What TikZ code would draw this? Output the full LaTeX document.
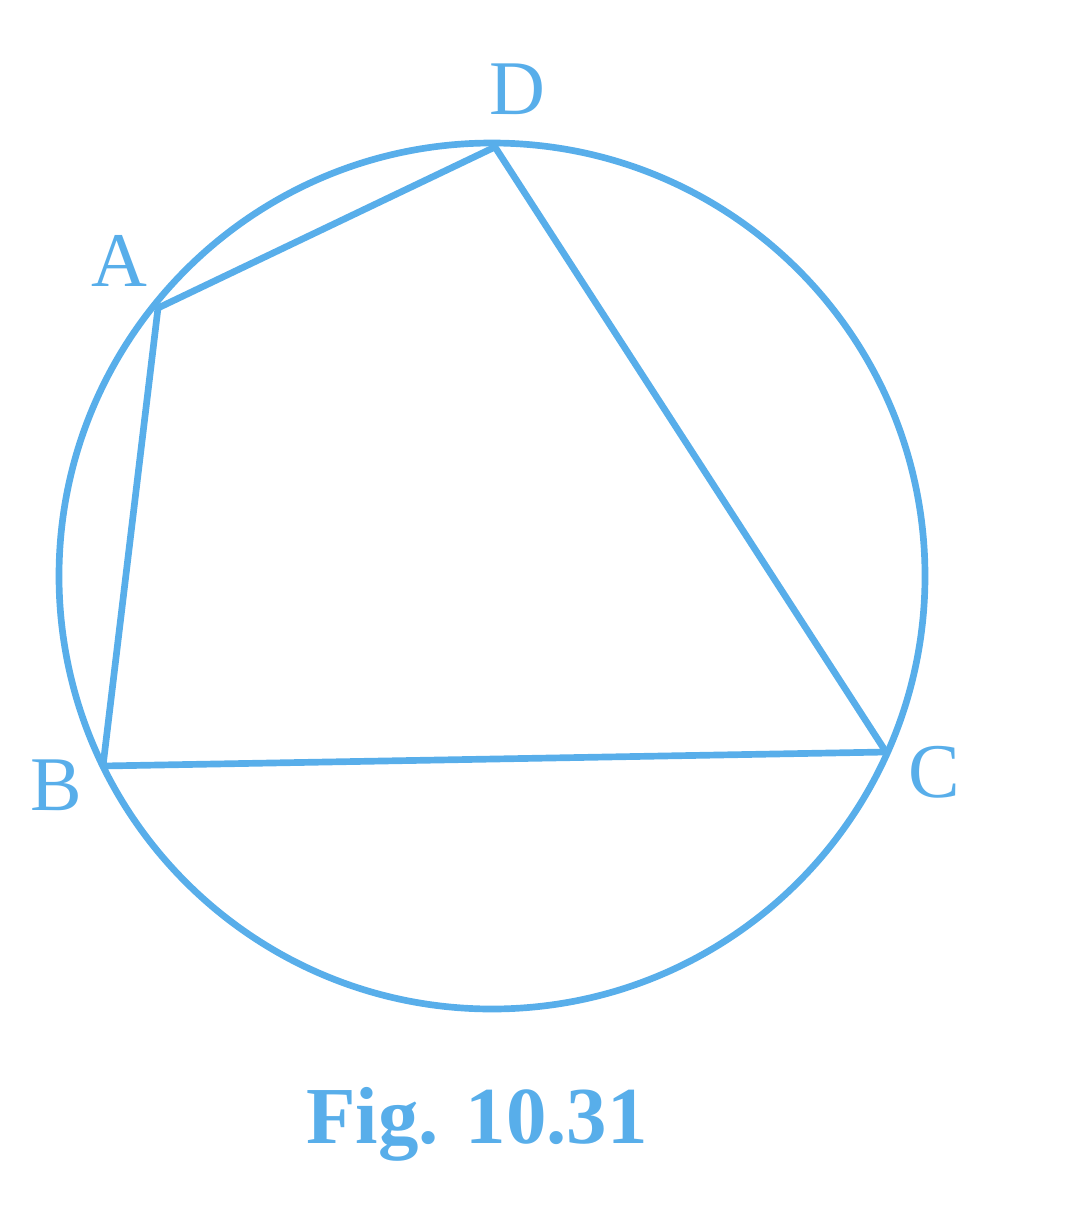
\documentclass[tikz,border=0pt]{standalone}
\usepackage{fontspec}
\setmainfont{Liberation Serif}
\definecolor{figblue}{RGB}{88,174,234}
\tikzset{
  kreis/.style={figblue, line width=1.9pt},
  seite/.style={figblue, line width=1.9pt, line join=round},
  punkt/.style={figblue, font=\fontsize{22}{26}\selectfont, inner sep=0pt}
}
\begin{document}
\begin{tikzpicture}[x=0.01cm, y=-0.01cm]
  % Rahmen
  \useasboundingbox (0,0) rectangle (1068,1206);
  % Umkreis
  \coordinate (M) at (492,576);
  \draw[kreis] (M) circle (433);
  % Eckpunkte auf dem Kreis
  \coordinate (D) at (495,147);
  \coordinate (A) at (158,308);
  \coordinate (B) at (103,766);
  \coordinate (C) at (886,752);
  % Viereck ABCD
  \draw[seite] (A) -- (D) -- (C) -- (B) -- cycle;
  % Beschriftung
  \node[punkt] (lD) at (517,89) {D};
  \node[punkt] (lA) at (119,261) {A};
  \node[punkt] (lB) at (56,785) {B};
  \node[punkt] (lC) at (934,772) {C};
  % Unterschrift
  \node[figblue, font=\fontsize{23}{27}\selectfont\bfseries, anchor=base] (cap) at (477,1143) {Fig. 10.31};
\end{tikzpicture}
\end{document}
